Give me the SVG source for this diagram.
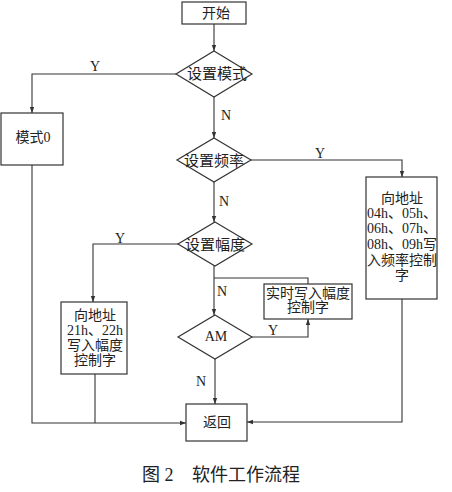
<svg xmlns="http://www.w3.org/2000/svg" width="452" height="492" viewBox="0 0 452 492">
<defs>
<marker id="ah" markerWidth="6" markerHeight="6" refX="6" refY="3" orient="auto" markerUnits="userSpaceOnUse">
<path d="M0,0.8 L6,3 L0,5.2 z" fill="#333"/>
</marker>
<style>
.s{fill:#fff;stroke:#333;stroke-width:1.2}
.c{fill:none;stroke:#333;stroke-width:1.1}
.a{marker-end:url(#ah)}
.t{font-family:"Liberation Serif","Noto Sans CJK SC",serif;font-size:14px;fill:#222;text-anchor:middle;dominant-baseline:central}
.d{font-size:15px}
.l{font-family:"Liberation Serif",serif;font-size:14px;fill:#222;text-anchor:middle;dominant-baseline:central}
.cap{font-family:"Liberation Serif","Noto Sans CJK SC",serif;font-size:18px;fill:#222;dominant-baseline:central}
</style>
</defs>
<rect width="452" height="492" fill="#fff"/>
<g id="connectors">
<path class="c a" d="M214,24 V51"/>
<path class="c a" d="M176,74 H32 V113"/>
<path class="c a" d="M214,97 V138"/>
<path class="c a" d="M251,160 H402 V177"/>
<path class="c a" d="M214,182 V222"/>
<path class="c a" d="M178,244 H93 V302"/>
<path class="c a" d="M214,266 V315"/>
<path class="c" d="M214,278 H308 V284"/>
<path class="c a" d="M252,337 H308 V319"/>
<path class="c a" d="M215,359 V404"/>
<path class="c a" d="M32,165 V423 H186"/>
<path class="c" d="M95,374 V423"/>
<path class="c a" d="M402,299 V422 H247"/>
<text class="l" x="95" y="66">Y</text>
<text class="l" x="226" y="115">N</text>
<text class="l" x="320" y="153">Y</text>
<text class="l" x="224" y="201">N</text>
<text class="l" x="120" y="238">Y</text>
<text class="l" x="222" y="291">N</text>
<text class="l" x="273" y="330">Y</text>
<text class="l" x="201" y="381">N</text>
</g>
<g id="start">
<rect class="s" x="182" y="2" width="64" height="22"/>
<text class="t" x="216" y="13">开始</text>
</g>
<g id="setMode">
<polygon class="s" points="214,51 252,74 214,97 176,74"/>
<text class="t d" x="217" y="74">设置模式</text>
</g>
<g id="mode0">
<rect class="s" x="1" y="113" width="62" height="52"/>
<text class="t" x="33" y="137">模式0</text>
</g>
<g id="setFreq">
<polygon class="s" points="214,138 251,160 214,182 177,160"/>
<text class="t d" x="214" y="161">设置频率</text>
</g>
<g id="freqBox">
<rect class="s" x="366" y="177" width="71" height="122"/>
<text class="t" x="402" y="198">向地址</text>
<text class="t" x="402" y="213">04h、05h、</text>
<text class="t" x="402" y="228">06h、07h、</text>
<text class="t" x="402" y="244">08h、09h写</text>
<text class="t" x="402" y="260">入频率控制</text>
<text class="t" x="402" y="275">字</text>
</g>
<g id="setAmp">
<polygon class="s" points="215,222 252,244 215,266 178,244"/>
<text class="t d" x="215" y="245">设置幅度</text>
</g>
<g id="ampBox">
<rect class="s" x="61" y="302" width="66" height="72"/>
<text class="t" x="95" y="315">向地址</text>
<text class="t" x="95" y="330">21h、22h</text>
<text class="t" x="95" y="345">写入幅度</text>
<text class="t" x="95" y="360">控制字</text>
</g>
<g id="realtime">
<rect class="s" x="264" y="284" width="88" height="35"/>
<text class="t" x="308" y="293">实时写入幅度</text>
<text class="t" x="308" y="307">控制字</text>
</g>
<g id="am">
<polygon class="s" points="215,315 252,337 215,359 178,337"/>
<text class="t" x="216" y="336">AM</text>
</g>
<g id="return">
<rect class="s" x="186" y="404" width="61" height="37"/>
<text class="t" x="217" y="422">返回</text>
</g>
<g id="caption">
<text class="cap" x="142" y="475">图 2</text>
<text class="cap" x="192" y="475">软件工作流程</text>
</g>
</svg>
